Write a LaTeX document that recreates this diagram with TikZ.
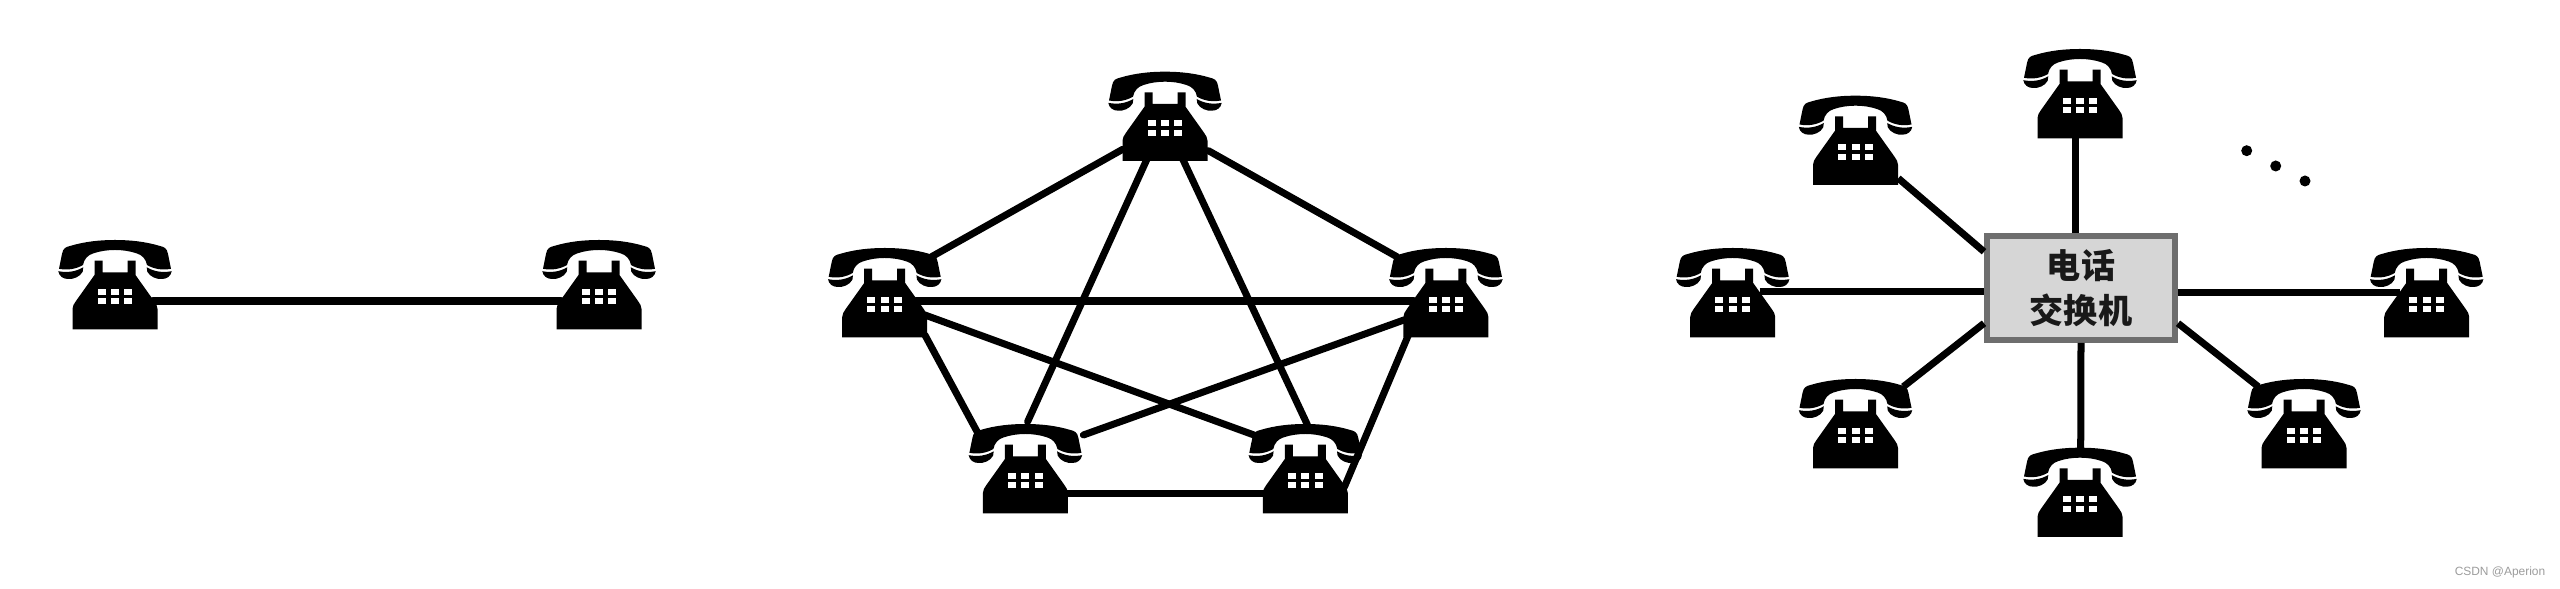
\documentclass[tikz,border=0pt]{standalone}
\usepackage{fontspec}
\setmainfont{Liberation Sans}
\newfontfamily\cjk{Noto Sans CJK SC}
\usetikzlibrary{calc}
\definecolor{hubfill}{HTML}{D6D6D6}
\definecolor{hubedge}{HTML}{6E6E6E}
\definecolor{markgray}{HTML}{9C9C9C}
\tikzset{
  phonebox/.style={rectangle, inner sep=0pt, minimum width=1.12cm, minimum height=.89cm},
  hubbox/.style={rectangle, draw=hubedge, line width=.6mm, fill=hubfill, inner sep=0pt,
                 minimum width=1.88cm, minimum height=1.04cm, align=center, text=black!90,
                 font=\cjk\bfseries\fontsize{9.7}{13}\selectfont},
  dotbox/.style={circle, fill=black, inner sep=0pt, minimum size=.11cm},
  markbox/.style={inner sep=0pt, text=markgray, font=\fontsize{3.4}{4}\selectfont},
  wire/.style={line width=.7mm, color=black, line cap=round},
  widewire/.style={wire, line width=.78mm},
  hubwire/.style={wire, line cap=butt},
  telephone/.pic={
    % handset
    \fill[black] (-56,-16.2) -- (-53,-31) .. controls (-52,-37) and (-49,-38) .. (-45,-39)
      .. controls (-30,-43.5) and (-15,-45) .. (0,-45) .. controls (15,-45) and (30,-43.5) .. (45,-39)
      .. controls (49,-38) and (52,-37) .. (53,-31) -- (56,-16.2)
      .. controls (47,-14.5) and (39,-16) .. (32,-20) .. controls (31,-26) and (27,-30) .. (22,-31.5)
      .. controls (15,-34) and (7,-35) .. (0,-35) .. controls (-7,-35) and (-15,-34) .. (-22,-31.5)
      .. controls (-27,-30) and (-31,-26) .. (-32,-20) .. controls (-39,-16) and (-47,-14.5) .. (-56,-16.2) -- cycle;
    % cups
    \fill[black] (-56.7,-13.8) .. controls (-47,-12) and (-39,-13.5) .. (-31.7,-17.7) -- (-32.3,-13.3)
      .. controls (-35,-8) and (-42,-5.5) .. (-47,-6) .. controls (-52,-6) and (-56,-9) .. (-56.7,-13.8) -- cycle;
    \fill[black] (56.7,-13.8) .. controls (47,-12) and (39,-13.5) .. (31.7,-17.7) -- (32.3,-13.3)
      .. controls (35,-8) and (42,-5.5) .. (47,-6) .. controls (52,-6) and (56,-9) .. (56.7,-13.8) -- cycle;
    % body
    \fill[black] (-20.5,-24.3) -- (-12.5,-24.3) -- (-12.5,-12.7) -- (12.5,-12.7) -- (12.5,-24.3)
      -- (20.5,-24.3) -- (20.5,-10) -- (39,16) .. controls (41,19) and (42.5,21) .. (42.5,24) -- (42.5,44.3)
      -- (-42.5,44.3) -- (-42.5,24) .. controls (-42.5,21) and (-41,19) .. (-39,16) -- (-20.5,-10) -- cycle;
    % keys
    \foreach \kx in {-13.3,0,13.3}
      \foreach \ky in {6.7,16}
        \fill[white] (\kx-4,\ky-3) rectangle (\kx+4,\ky+3);
  }}
\newcommand{\phone}[2]{\node[phonebox] (#1) at (#2) {}; \pic at (#1) {telephone};}
\begin{document}
\begin{tikzpicture}[x=0.01cm,y=-0.01cm]
  \useasboundingbox (0,0) rectangle (2560,589);
  % two phones
  \phone{linea}{115,285}
  \phone{lineb}{599,285}
  \draw[widewire] ($(linea)+(38,15.7)$) -- ($(lineb)+(-38,15.7)$);
  % full mesh
  \phone{meshtop}{1165,116.7}
  \phone{meshleft}{884.7,293}
  \phone{meshright}{1445.9,293}
  \phone{meshlow}{1025.4,469}
  \phone{meshend}{1305.3,469}
  \draw[wire] ($(meshtop)+(-42.3,32.6)$) -- ($(meshleft)+(46.9,-36.3)$);
  \draw[wire] ($(meshtop)+(43.4,34)$) -- ($(meshright)+(-49.1,-36.3)$);
  \draw[wire] ($(meshtop)+(-17.8,42)$) -- ($(meshlow)+(2.2,-47.3)$);
  \draw[wire] ($(meshtop)+(17.5,42)$) -- ($(meshend)+(2.2,-44)$);
  \draw[widewire] ($(meshleft)+(31.3,8.3)$) -- ($(meshright)+(-32.1,8.3)$);
  \draw[wire] ($(meshleft)+(40.2,22)$) -- ($(meshend)+(-51.4,-34)$);
  \draw[wire] ($(meshright)+(-42,27)$) -- ($(meshlow)+(58,-34)$);
  \draw[wire] ($(meshleft)+(40.2,42)$) -- ($(meshlow)+(-48.3,-37.3)$);
  \draw[wire] ($(meshright)+(-37.5,42)$) -- ($(meshend)+(39.2,17.7)$);
  \draw[wire] ($(meshlow)+(41,24.3)$) -- ($(meshend)+(-41,24.3)$);
  % exchange
  \node[hubbox] (hub) at (2081,288) {电话\\交换机};
  \phone{startop}{2080,94}
  \phone{starhigh}{1855.5,140.7}
  \phone{starleft}{1732.7,293}
  \phone{starlow}{1855.5,424}
  \phone{starend}{2080,492.7}
  \phone{starside}{2304,424}
  \phone{starright}{2426.7,293}
  \draw[hubwire] ($(startop)+(-5,43)$) -- ($(hub)+(-6,-55)$);
  \draw[hubwire] ($(starhigh)+(42.8,37.6)$) -- ($(hub)+(-97,-36.3)$);
  \draw[hubwire] ($(starleft)+(27,-1.5)$) -- ($(hub)+(-97,3.5)$);
  \draw[hubwire] ($(starlow)+(47.8,-37.3)$) -- ($(hub)+(-97,35.3)$);
  \draw[hubwire] ($(starend)+(.7,-44)$) -- ($(hub)+(0,55)$);
  \draw[hubwire] ($(starright)+(-26.7,-.5)$) -- ($(hub)+(97,4.5)$);
  \draw[hubwire] ($(starside)+(-45.7,-37.3)$) -- ($(hub)+(97,35.3)$);
  \node[dotbox] (dota) at (2246.7,150.7) {};
  \node[dotbox] (dotb) at (2275.7,166) {};
  \node[dotbox] (dotc) at (2305,181) {};
  \node[markbox] (mark) at (2500,572.5) {CSDN @Aperion};
\end{tikzpicture}
\end{document}
